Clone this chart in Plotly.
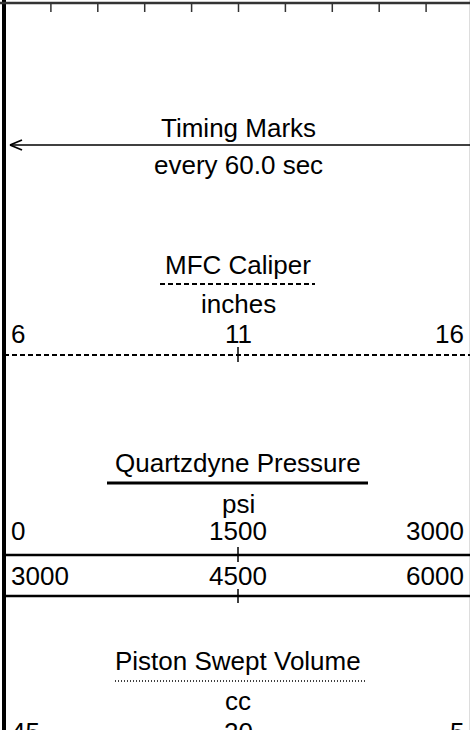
import plotly.graph_objects as go

# ---- data (header content) ----
curve_titles = ["Timing Marks", "MFC Caliper", "Quartzdyne Pressure", "Piston Swept Volume"]
curve_units = ["every 60.0 sec", "inches", "psi", "cc"]
caliper_scale = [6, 11, 16]
pressure_scale = [0, 1500, 3000]
pressure_wrap_scale = [3000, 4500, 6000]
volume_scale = [45, 20, 5]
grid_divisions = 10

# ---- layout constants (pixels) ----
W, H = 470, 730
X0, X1 = 4, 473           # track extent
XC = 238                  # track centre
XL, XR = 9, 466           # scale label anchors
FS = 26
FONT = dict(family="Liberation Sans, Arial, sans-serif", size=FS, color="black")
MID = (0.905 - 0.212) / 2 * FS      # baseline -> text box centre
HALF = (0.905 + 0.212) / 2 * FS + 1  # half text box height (with pad)

fig = go.Figure()
fig.add_trace(go.Scatter(x=[1], y=[1], mode="markers", marker=dict(opacity=0), hoverinfo="skip"))

shapes = []
ann = []


def line(x0, y0, x1, y1, width=1.5, color="black", dash="solid"):
    shapes.append(dict(type="line", xref="x", yref="y", x0=x0, y0=y0, x1=x1, y1=y1,
                       line=dict(color=color, width=width, dash=dash)))


def text(s, x, baseline, anchor="center"):
    yc = baseline - MID
    if yc < H - 2:
        ya, yy = "middle", yc
    else:
        ya, yy = "top", yc - HALF
    ann.append(dict(text=str(s), x=x, y=yy, xref="x", yref="y",
                    xanchor=anchor, yanchor=ya, showarrow=False, font=FONT))


def scale_row(vals, baseline):
    text(vals[0], XL, baseline, "left")
    text(vals[1], XC, baseline, "center")
    text(vals[2], XR, baseline, "right")


# frame
line(4, 0, 4, H, width=4)
line(469.5, 0, 469.5, H, width=1, color="#dddddd")
line(0, 3, W, 3, width=2.5, color="#333333")
step = (X1 - X0) / grid_divisions
for i in range(1, grid_divisions):
    xt = X0 + i * step
    line(xt, 3, xt, 12, width=1.5, color="#333333")

# Timing marks
text(curve_titles[0], XC, 137)
line(10, 145, W, 145, width=1.5)
line(10, 145, 22, 140, width=1.8)
line(10, 145, 22, 150, width=1.8)
text(curve_units[0], XC, 174)

# MFC Caliper
text(curve_titles[1], XC, 274)
line(160, 284, 315, 284, width=2, dash="5px,3px")
text(curve_units[1], XC, 313)
scale_row(caliper_scale, 343)
line(X0, 355, W, 355, width=2, dash="5px,3px")
line(XC, 347, XC, 362, width=1.5)

# Quartzdyne Pressure
text(curve_titles[2], XC, 472)
line(107, 483, 368, 483, width=3)
text(curve_units[2], XC, 513)
scale_row(pressure_scale, 540)
line(X0, 555, W, 555, width=2.5)
line(XC, 547, XC, 562, width=1.5)
scale_row(pressure_wrap_scale, 585)
line(X0, 596, W, 596, width=2.5)
line(XC, 589, XC, 603, width=1.5)

# Piston Swept Volume
text(curve_titles[3], XC, 670)
line(115, 681, 367, 681, width=1.5, dash="1px,2px")
text(curve_units[3], XC, 710)
scale_row(volume_scale, 740)

fig.update_layout(
    width=W, height=H, margin=dict(l=0, r=0, t=0, b=0),
    paper_bgcolor="white", plot_bgcolor="white", showlegend=False,
    xaxis=dict(range=[0, W], visible=False, fixedrange=True),
    yaxis=dict(range=[H, 0], visible=False, fixedrange=True),
    shapes=shapes, annotations=ann,
)
fig.write_html(
    "out.html",
    config={"displayModeBar": False},
    post_script="document.body.style.margin='0';document.body.style.overflow='hidden';",
)
